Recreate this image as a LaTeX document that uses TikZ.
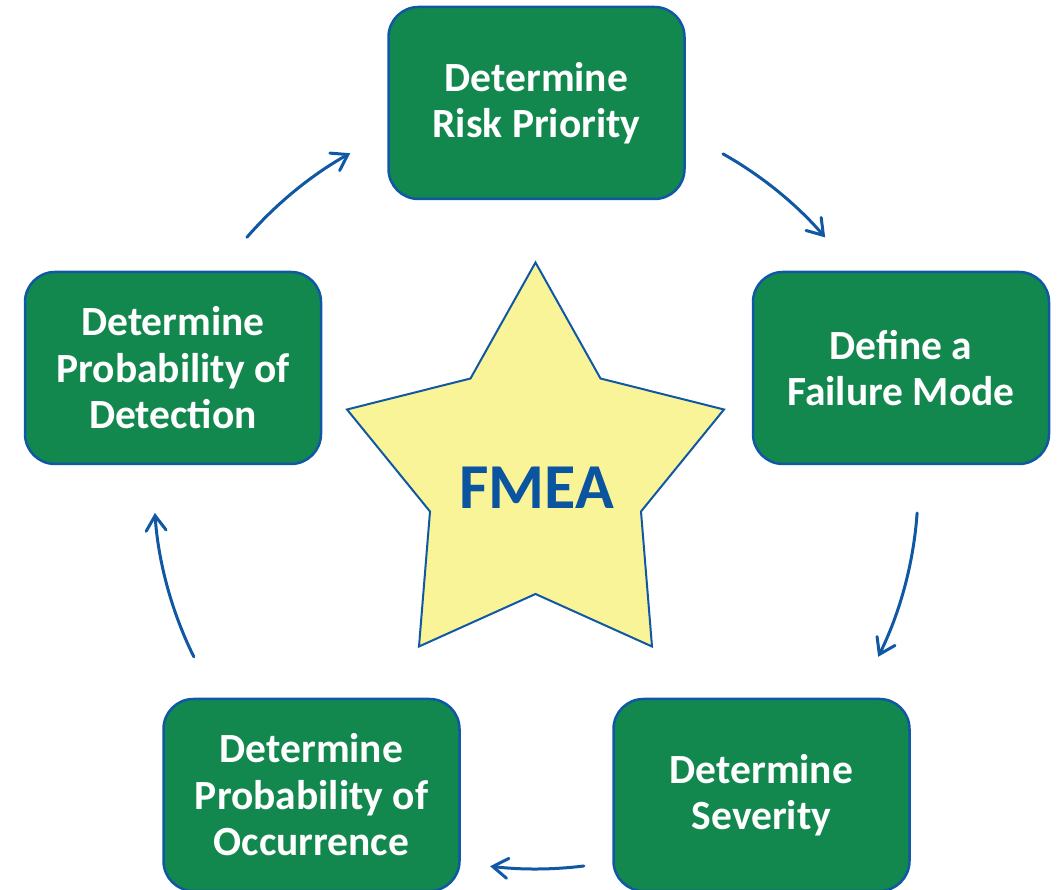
\documentclass[tikz,border=0pt]{standalone}
\usepackage{fontspec}
\setmainfont{Carlito}
\usetikzlibrary{arrows.meta,calc}

\definecolor{stepgreen}{RGB}{18,136,78}
\definecolor{lineblue}{RGB}{16,88,164}
\definecolor{titleblue}{RGB}{10,84,160}
\definecolor{starfill}{RGB}{248,244,151}

\tikzset{
  stepbox/.style={rectangle, rounded corners=30pt, draw=lineblue, line width=2.5pt,
    fill=stepgreen, minimum width=296pt, minimum height=192pt, align=center,
    text=white, font=\fontsize{41.5}{46.5}\selectfont\bfseries, inner sep=0pt},
  cycarrow/.style={draw=lineblue, line width=3pt, line cap=round,
    -{Straight Barb[length=15pt,width=20pt,line cap=round]}},
  starshape/.style={draw=lineblue, line width=2pt, fill=starfill, line join=miter},
}

\begin{document}
\begin{tikzpicture}[x=1pt,y=1pt]
  \useasboundingbox (0,0) rectangle (1061,890);

  % central star
  \draw[starshape] (535.5,627.5) -- (600.5,511.5) -- (724,480.5) -- (641,378.5)
    -- (652,243.5) -- (535.5,296) -- (419,243.5) -- (430,378.5)
    -- (347,480.5) -- (470.5,511.5) -- cycle;
  \node[text=titleblue, font=\fontsize{64}{70}\selectfont\bfseries] (fmea) at (536.5,402.5) {FMEA};

  % process steps
  \node[stepbox] (risk)   at (536.5,787) {Determine\\Risk Priority};
  \node[stepbox] (define) at (901,522)   {Define a\\Failure Mode};
  \node[stepbox] (sev)    at (761.5,95)  {Determine\\Severity};
  \node[stepbox] (occ)    at (311.5,95)  {Determine\\Probability of\\Occurrence};
  \node[stepbox] (det)    at (173,522)   {Determine\\Probability of\\Detection};

  % cycle arrows on a circle around the hub
  \coordinate (hub) at (536,403);
  \coordinate (a1s) at ($(hub)+(139.2:382)$);
  \coordinate (a1e) at ($(hub)+(119.1:382)$);
  \coordinate (a2s) at ($(hub)+(60.7:382)$);
  \coordinate (a2e) at ($(hub)+(40.8:382)$);
  \coordinate (a3s) at ($(hub)+(-3.9:382)$);
  \coordinate (a3e) at ($(hub)+(-26.4:382)$);
  \coordinate (a4s) at ($(hub)+(-82.8:382)$);
  \coordinate (a4e) at ($(hub)+(-96.9:382)$);
  \coordinate (a5s) at ($(hub)+(206.4:382)$);
  \coordinate (a5e) at ($(hub)+(183.9:382)$);

  \draw[cycarrow] (a1s) to[bend left=10, looseness=0.85] (a1e);
  \draw[cycarrow] (a2s) to[bend left=10, looseness=0.85] (a2e);
  \draw[cycarrow] (a3s) to[bend left=11.25, looseness=0.85] (a3e);
  \draw[cycarrow] (a4s) to[bend left=7, looseness=0.85] (a4e);
  \draw[cycarrow] (a5s) to[bend left=11.25, looseness=0.85] (a5e);
\end{tikzpicture}
\end{document}
